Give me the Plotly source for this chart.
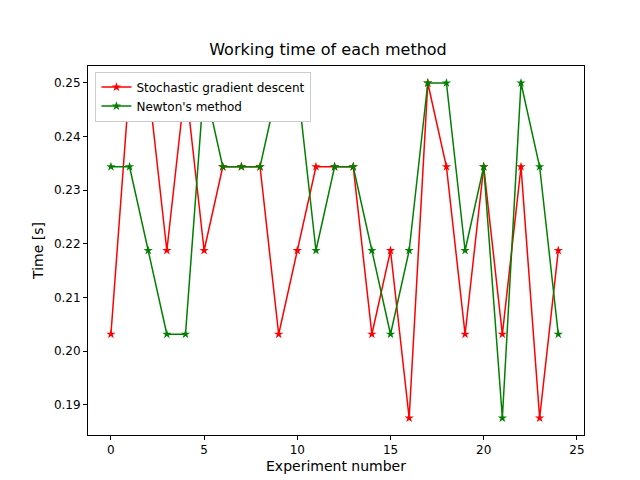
import plotly.graph_objects as go

experiments = list(range(25))
sgd_time = [0.203125, 0.25, 0.25, 0.21875, 0.25, 0.21875, 0.234375, 0.234375, 0.234375, 0.203125,
            0.21875, 0.234375, 0.234375, 0.234375, 0.203125, 0.21875, 0.1875, 0.25, 0.234375, 0.203125,
            0.234375, 0.203125, 0.234375, 0.1875, 0.21875]
newton_time = [0.234375, 0.234375, 0.21875, 0.203125, 0.203125, 0.25, 0.234375, 0.234375, 0.234375, 0.25,
               0.25, 0.21875, 0.234375, 0.234375, 0.21875, 0.203125, 0.21875, 0.25, 0.25, 0.21875,
               0.234375, 0.1875, 0.25, 0.234375, 0.203125]

fig = go.Figure()
fig.add_trace(go.Scatter(x=experiments, y=sgd_time, mode='lines+markers', name='Stochastic gradient descent',
                         line=dict(color='red', width=1.5), marker=dict(symbol='star', size=7, color='red')))
fig.add_trace(go.Scatter(x=experiments, y=newton_time, mode='lines+markers', name="Newton's method",
                         line=dict(color='green', width=1.5), marker=dict(symbol='star', size=7, color='green')))

axis_style = dict(showgrid=False, zeroline=False, showline=True, mirror=True, linecolor='black',
                  ticks='outside', tickcolor='black', ticklen=4, automargin=False)
fig.update_layout(
    width=640, height=480, plot_bgcolor='white', paper_bgcolor='white',
    font=dict(family='DejaVu Sans', size=12, color='black'),
    title=dict(text='Working time of each method', x=0.5, xanchor='center', y=0.925, font=dict(size=16)),
    margin=dict(l=80, r=64, t=58, b=53),
    xaxis=dict(title=dict(text='Experiment number', standoff=4), range=[-1.23, 25.38],
               tickvals=[0, 5, 10, 15, 20, 25], **axis_style),
    yaxis=dict(title=dict(text='Time [s]', standoff=6), range=[0.18433, 0.25317], tickformat='.2f',
               dtick=0.01, **axis_style),
    legend=dict(x=0.015, y=0.985, xanchor='left', yanchor='top', bordercolor='#cccccc', borderwidth=1,
                bgcolor='white'),
)
fig.write_html("out.html")
